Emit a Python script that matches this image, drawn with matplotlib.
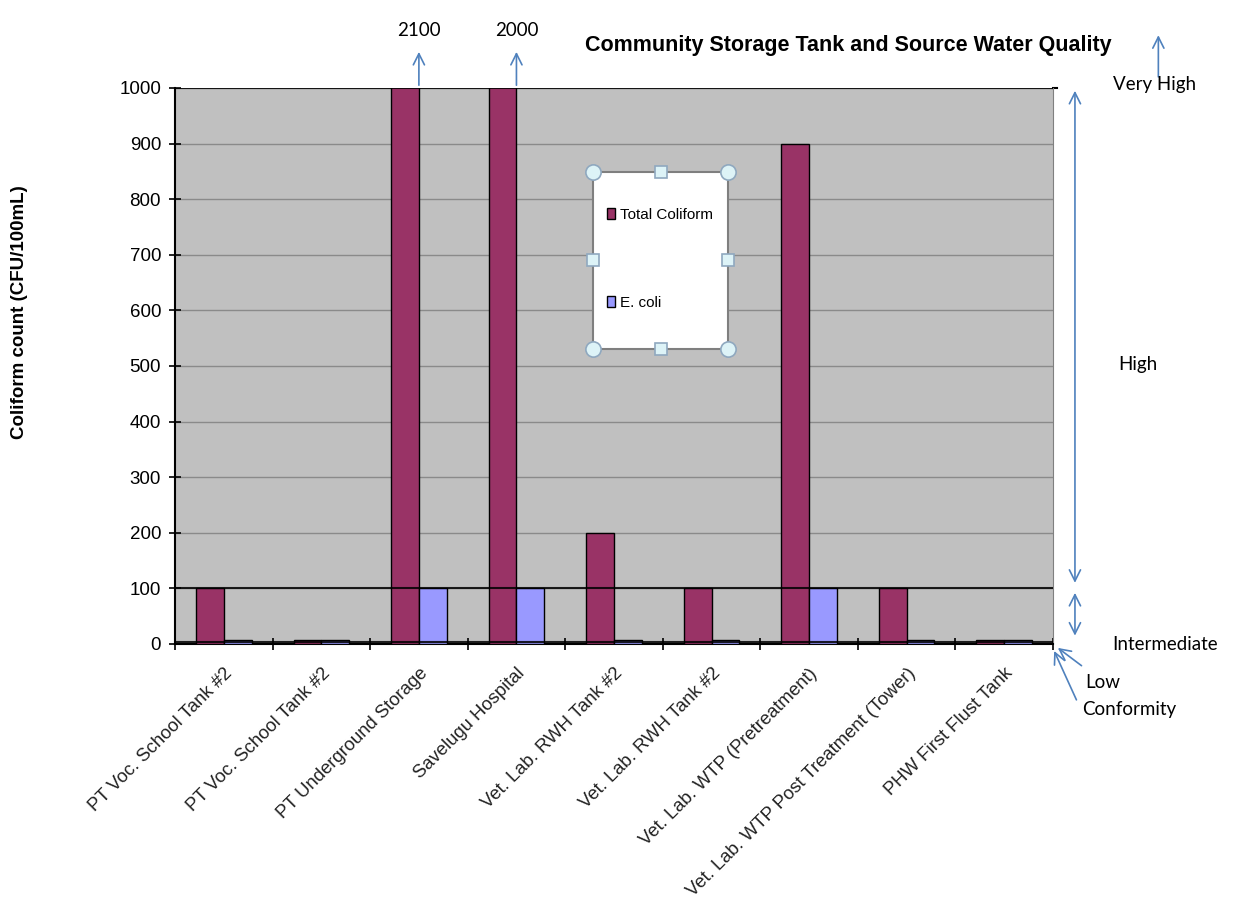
import numpy as np
import matplotlib
matplotlib.use("Agg")
import matplotlib.pyplot as plt
import matplotlib.transforms as mtransforms
from matplotlib.patches import Rectangle

# Sampling sites and coliform counts (CFU/100mL)
sites = [
    "PT Voc. School Tank #2",
    "PT Voc. School Tank #2",
    "PT Underground Storage",
    "Savelugu Hospital",
    "Vet. Lab. RWH Tank #2",
    "Vet. Lab. RWH Tank #2",
    "Vet. Lab. WTP (Pretreatment)",
    "Vet. Lab. WTP Post Treatment (Tower)",
    "PHW First Flust Tank",
]
total_coliform = [100, 8, 2100, 2000, 200, 100, 900, 100, 8]
e_coli = [8, 8, 100, 100, 8, 8, 100, 8, 8]

# risk class boundaries
limit_lines = [1000, 100, 3]
high_band = (1000, 100)
intermediate_band = (100, 10)
y_max = 1000
y_ticks = list(range(0, 1001, 100))

TC_COLOR = "#993366"
EC_COLOR = "#9999FF"
ARROW = "#4F81BD"
BAR_W = 0.285

plt.rcParams["font.family"] = ["Liberation Sans", "DejaVu Sans"]

fig = plt.figure(figsize=(12.37, 9), dpi=100)
ax = fig.add_axes([175 / 1237, 1 - 644 / 900, 878 / 1237, 556 / 900])
ax.set_facecolor("#C0C0C0")

x = np.arange(len(sites))
tc_bars = ax.bar(x - BAR_W / 2, total_coliform, BAR_W, color=TC_COLOR,
                 edgecolor="black", linewidth=1.0, label="Total Coliform", zorder=3)
ec_bars = ax.bar(x + BAR_W / 2, e_coli, BAR_W, color=EC_COLOR,
                 edgecolor="black", linewidth=1.0, label="E. coli", zorder=3)

ax.set_xlim(-0.5, len(sites) - 0.5)
ax.set_ylim(0, y_max)
ax.set_yticks(y_ticks)
ax.tick_params(axis="y", direction="inout", length=8, width=1.2, labelsize=13.5, pad=6)
ax.yaxis.grid(True, color="#8A8A8A", linewidth=1.0, zorder=1)
ax.set_axisbelow(True)

# category labels at centres, tick marks at category boundaries
ax.set_xticks(x)
ax.set_xticklabels(sites, rotation=45, ha="right", rotation_mode="anchor",
                   fontsize=13.3, color="#222222")
ax.tick_params(axis="x", which="major", length=0, pad=15)
ax.set_xticks(np.arange(-0.5, len(sites)), minor=True)
ax.tick_params(axis="x", which="minor", direction="inout", length=9, width=1.2)

for side in ["left", "bottom"]:
    ax.spines[side].set_linewidth(1.5)
    ax.spines[side].set_color("black")
ax.spines["right"].set_color("#808080")
ax.spines["top"].set_visible(False)

for level in limit_lines:
    ax.axhline(level, color="black", linewidth=1.5, zorder=4, alpha=0.85)
ax.plot([1.0, 1.005], [y_max, y_max], color="black", lw=1.5,
        transform=mtransforms.blended_transform_factory(ax.transAxes, ax.transData),
        clip_on=False)

# values beyond the axis limit
for xi, val in zip(x, total_coliform):
    if val > y_max:
        ax.annotate("", xy=(xi, y_max + 70), xytext=(xi, y_max),
                    xycoords="data", textcoords="data",
                    arrowprops=dict(arrowstyle="->", color=ARROW, lw=1.2,
                                    mutation_scale=20), annotation_clip=False)
        ax.text(xi, y_max + 88, str(val), ha="center", va="bottom",
                fontsize=13.5, family=["Lato", "DejaVu Sans"], clip_on=False)

# risk classes on the right-hand side
bt = mtransforms.blended_transform_factory(ax.transAxes, ax.transData)
arr = dict(arrowstyle="<->", color=ARROW, lw=1.2, mutation_scale=20)
ax.annotate("", xy=(1.025, high_band[0]), xytext=(1.025, high_band[1] + 5),
            xycoords=bt, textcoords=bt, arrowprops=arr, annotation_clip=False)
ax.annotate("", xy=(1.025, intermediate_band[0] - 3), xytext=(1.025, intermediate_band[1]),
            xycoords=bt, textcoords=bt, arrowprops=arr, annotation_clip=False)
ax.annotate("", xy=(1.12, 1100), xytext=(1.12, 1015),
            xycoords=bt, textcoords=bt,
            arrowprops=dict(arrowstyle="->", color=ARROW, lw=1.2, mutation_scale=20),
            annotation_clip=False)
ax.annotate("", xy=(1.003, -4), xytext=(1.035, -42),
            xycoords=bt, textcoords=bt,
            arrowprops=dict(arrowstyle="->", color=ARROW, lw=1.2, mutation_scale=20),
            annotation_clip=False)
ax.annotate("", xy=(1.0, -8), xytext=(1.028, -105),
            xycoords=bt, textcoords=bt,
            arrowprops=dict(arrowstyle="->", color=ARROW, lw=1.2, mutation_scale=20),
            annotation_clip=False)

side_font = dict(fontsize=13.5, family=["Lato", "DejaVu Sans"], transform=bt, clip_on=False)
ax.text(1.116, 1007, "Very High", ha="center", va="center", **side_font)
ax.text(1.097, 503, "High", ha="center", va="center", **side_font)
ax.text(1.128, 0, "Intermediate", ha="center", va="center", **side_font)
ax.text(1.037, -70, "Low", ha="left", va="center", **side_font)
ax.text(1.033, -118, "Conformity", ha="left", va="center", **side_font)

# legend box with its selection handles
bx0, bx1, by0, by1 = 0.476, 0.630, 0.5306, 0.849
ax.add_patch(Rectangle((bx0, by0), bx1 - bx0, by1 - by0, transform=ax.transAxes,
                       facecolor="white", edgecolor="#7F7F7F", lw=1.5, zorder=6))
hx = [bx0, bx1, bx0, bx1]
hy = [by0, by0, by1, by1]
ax.plot(hx, hy, "o", transform=ax.transAxes, ms=11, mfc="#DDF3F7",
        mec="#8FA8BF", mew=1.2, zorder=7, clip_on=False)
mx = [(bx0 + bx1) / 2, (bx0 + bx1) / 2, bx0, bx1]
my = [by0, by1, (by0 + by1) / 2, (by0 + by1) / 2]
ax.plot(mx, my, "s", transform=ax.transAxes, ms=8.5, mfc="#DDF3F7",
        mec="#8FA8BF", mew=1.2, zorder=7, clip_on=False)
leg = ax.legend(handles=[tc_bars, ec_bars], loc="upper left",
                bbox_to_anchor=(0.4915, 0.784), frameon=False, fontsize=11,
                handlelength=0.55, handleheight=0.75, handletextpad=0.3,
                labelspacing=4.85, borderaxespad=0, borderpad=0)
leg.set_zorder(8)

fig.text(848 / 1237, 1 - 45 / 900, "Community Storage Tank and Source Water Quality",
         ha="center", va="center", fontsize=15.5, fontweight="bold")
fig.text(20 / 1237, 1 - 312 / 900, "Coliform count (CFU/100mL)", rotation=90,
         ha="center", va="center", fontsize=13.5, fontweight="bold")

fig.savefig("out.png", dpi=100, facecolor="white")
